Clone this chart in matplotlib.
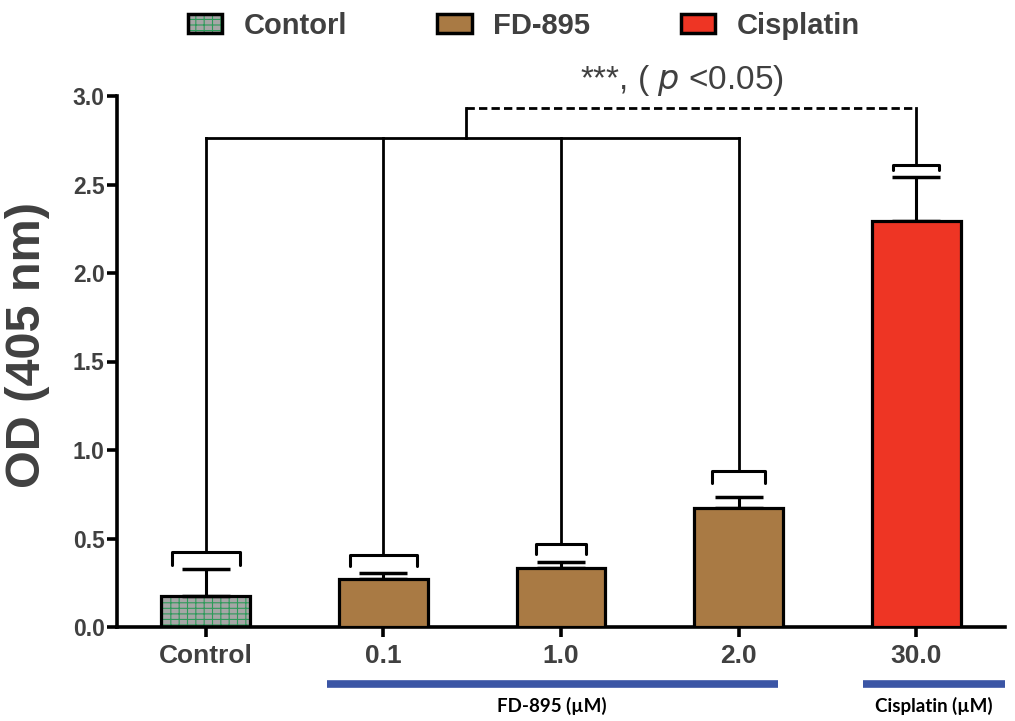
import matplotlib
matplotlib.use("Agg")
import matplotlib.pyplot as plt
from matplotlib.patches import Patch
from matplotlib.legend_handler import HandlerTuple
import numpy as np

# ---- data ----
categories = ['Control', '0.1', '1.0', '2.0', '30.0']
means = [0.175, 0.27, 0.333, 0.672, 2.294]
errors = [0.155, 0.035, 0.034, 0.06, 0.25]
groups = ['control', 'fd', 'fd', 'fd', 'cis']
legend_labels = ['Contorl', 'FD-895', 'Cisplatin']
brace_y = [0.424, 0.407, 0.47, 0.881, 2.61]
brace_half = [0.19, 0.19, 0.14, 0.147, 0.13]
brace_arm = [0.073, 0.062, 0.056, 0.068, 0.03]
bracket_level = 2.76
dashed_level = 2.93
sig_text = '***, ( $\\mathit{p}$ <0.05)'
group_names = ['FD-895 (\u00b5M)', 'Cisplatin (\u00b5M)']
group_spans = [(0.68, 3.22), (3.70, 4.5)]

# ---- style ----
grey_txt = '#404040'
col_fd = '#A97A44'
col_cis = '#EE3524'
col_ctrl_face = '#A6A6A6'
col_ctrl_hatch = '#2E9A5A'
blue = '#3B55A5'

plt.rcParams['font.family'] = ['Liberation Sans', 'DejaVu Sans']
plt.rcParams['hatch.linewidth'] = 0.8

fig = plt.figure(figsize=(10.15, 7.21), dpi=100)
ax = fig.add_axes([117/1015, 94/721, 888/1015, 531/721])

x = np.arange(len(categories))
width = 0.5
colors = {'fd': col_fd, 'cis': col_cis}
for i, (m, g) in enumerate(zip(means, groups)):
    if g == 'control':
        ax.bar(x[i], m, width, color=col_ctrl_face, edgecolor=col_ctrl_hatch,
               hatch='---||', linewidth=0, zorder=2)
        ax.bar(x[i], m, width, fill=False, edgecolor='black', linewidth=2.3, zorder=3)
    else:
        ax.bar(x[i], m, width, color=colors[g], edgecolor='black', linewidth=2.3, zorder=3)

ax.errorbar(x, means, yerr=[np.zeros(len(means)), errors], fmt='none',
            ecolor='black', elinewidth=2.2, capsize=17, capthick=2.5, zorder=2)

# braces and stems
for i in range(len(categories)):
    xc, yb, hw, arm = x[i], brace_y[i], brace_half[i], brace_arm[i]
    ax.plot([xc-hw, xc-hw, xc+hw, xc+hw], [yb-arm, yb, yb, yb-arm], color='black',
            lw=2.2, solid_joinstyle='round', solid_capstyle='round', zorder=4, clip_on=False)
    top = bracket_level if i < 4 else dashed_level
    ax.plot([xc, xc], [yb, top], color='black', lw=2.0, zorder=4, clip_on=False)

ax.plot([x[0], x[3]], [bracket_level, bracket_level], color='black', lw=2.0, clip_on=False, zorder=4)
mid = 1.465
ax.plot([mid, mid], [bracket_level, dashed_level], color='black', lw=2.0, clip_on=False, zorder=4)
ax.plot([mid, x[4]], [dashed_level, dashed_level], color='black', lw=2.0, ls=(0, (3, 1.5)),
        clip_on=False, zorder=4)
ax.text(2.68, 3.09, sig_text, ha='center', va='center', fontsize=24, color=grey_txt,
        clip_on=False)

# axes
ax.set_xlim(-0.5, 4.5)
ax.set_ylim(0, 3.0)
ax.set_yticks([0, 0.5, 1.0, 1.5, 2.0, 2.5, 3.0])
ax.set_yticklabels(['0.0', '0.5', '1.0', '1.5', '2.0', '2.5', '3.0'])
ax.set_xticks(x)
ax.set_xticklabels(categories)
for s in ['top', 'right']:
    ax.spines[s].set_visible(False)
for s in ['left', 'bottom']:
    ax.spines[s].set_linewidth(2.6)
ax.tick_params(axis='both', which='major', length=7, width=2.6, color='black',
               labelcolor=grey_txt, pad=2)
ax.tick_params(axis='y', labelsize=16.5)
ax.tick_params(axis='x', labelsize=19, pad=5)
for lab in ax.get_xticklabels() + ax.get_yticklabels():
    lab.set_fontweight('bold')
ax.set_ylabel('OD (405 nm)', fontsize=35, fontweight='bold', color=grey_txt)
ax.yaxis.set_label_coords(-0.075, 0.531)

# group lines & labels
trans = ax.get_xaxis_transform()
for (a, b), name in zip(group_spans, group_names):
    ax.plot([a, b], [-0.107, -0.107], color=blue, lw=5.5, transform=trans,
            clip_on=False, solid_capstyle='butt')
    ax.text((a+b)/2, -0.148, name, transform=trans, ha='center', va='center',
            fontsize=13.5, fontweight='bold', family=['Lato', 'DejaVu Sans'], color='black')

# legend
h_ctrl = (Patch(facecolor=col_ctrl_face, edgecolor=col_ctrl_hatch, hatch='---||', linewidth=0),
          Patch(facecolor='none', edgecolor='black', linewidth=2.5))
h_fd = Patch(facecolor=col_fd, edgecolor='black', linewidth=2.5)
h_cis = Patch(facecolor=col_cis, edgecolor='black', linewidth=2.5)
leg = fig.legend([h_ctrl, h_fd, h_cis], legend_labels, loc='upper center',
                 bbox_to_anchor=(0.516, 1.02), ncol=3, frameon=False,
                 handler_map={tuple: HandlerTuple(ndivide=1, pad=0)},
                 prop={'size': 21, 'weight': 'bold'}, handlelength=1.17, handleheight=0.62,
                 columnspacing=3.1, handletextpad=0.75)
for t in leg.get_texts():
    t.set_color(grey_txt)

fig.savefig('out.png', dpi=100)
